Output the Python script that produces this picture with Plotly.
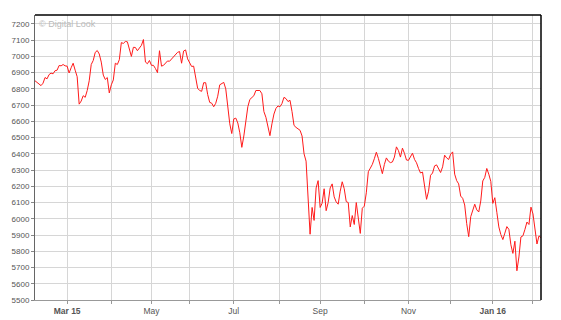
import pandas as pd
import plotly.graph_objects as go

start_date = "2015-02-06"
end_date = "2016-02-05"
uk_holidays = ["2015-04-03", "2015-04-06", "2015-05-04", "2015-05-25",
               "2015-08-31", "2015-12-25", "2015-12-28", "2016-01-01"]

values = [
    6850, 6838, 6828, 6820, 6835, 6870, 6862, 6888, 6897, 6893,
    6912, 6915, 6944, 6942, 6950, 6942, 6940, 6898, 6930, 6958,
    6915, 6875, 6706, 6725, 6758, 6748, 6790, 6850, 6950, 6975,
    7025, 7036, 7015, 6965, 6885, 6858, 6870, 6775, 6825, 6855,
    6958, 6950, 6980, 7085, 7080, 7092, 7090, 7050, 7000, 7056,
    7055, 7035, 7052, 7068, 7104, 6965, 6955, 6975, 6945, 6945,
    6925, 6900, 7035, 6940, 6945, 6960, 6972, 6970, 6985, 6998,
    7012, 7025, 7030, 6958, 7033, 7040, 6985, 6958, 6938, 6940,
    6870, 6804, 6790, 6785, 6838, 6838, 6765, 6717, 6712, 6690,
    6711, 6755, 6825, 6835, 6840, 6800, 6700, 6585, 6525, 6615,
    6620, 6590, 6530, 6440, 6510, 6600, 6690, 6735, 6746, 6758,
    6790, 6788, 6790, 6770, 6660, 6625, 6560, 6512, 6585, 6645,
    6680, 6695, 6690, 6710, 6748, 6740, 6722, 6730, 6660, 6575,
    6563, 6555, 6545, 6510, 6400, 6355, 6130, 5905, 6070, 5990,
    6190, 6235, 6070, 6096, 6185, 6050, 6100, 6190, 6215, 6135,
    6104, 6090, 6170, 6228, 6185, 6106, 6100, 5950, 6020, 5965,
    6100, 5990, 5910, 6065, 6078, 6160, 6290, 6312, 6335, 6370,
    6410, 6372, 6328, 6278, 6335, 6375, 6355, 6346, 6350, 6380,
    6443, 6420, 6380, 6435, 6403, 6362, 6360, 6380, 6404, 6366,
    6345, 6310, 6282, 6288, 6188, 6120, 6170, 6268, 6282, 6326,
    6332, 6310, 6285, 6320, 6392, 6375, 6365, 6398, 6412, 6275,
    6235, 6215, 6140, 6126, 6085, 5970, 5890, 6013, 6055, 6090,
    6055, 6042, 6110, 6233, 6255, 6310, 6275, 6230, 6095, 6130,
    6040, 5950, 5903, 5872, 5912, 5952, 5935, 5840, 5787, 5862,
    5680, 5765, 5888, 5895, 5935, 5980, 5965, 6072, 6030, 5935,
    5845, 5895, 5884,
]

month_labels = {
    "2015-03": "<b>Mar 15</b>", "2015-05": "May", "2015-07": "Jul",
    "2015-09": "Sep", "2015-11": "Nov", "2016-01": "<b>Jan 16</b>",
}

dates = pd.bdate_range(start_date, end_date, freq="C", holidays=uk_holidays)
n = min(len(dates), len(values))
dates = dates[:n]
values = values[:n]
xs = list(range(n))

month_idx = [i for i in range(1, n) if dates[i].month != dates[i - 1].month]
tick_text = [month_labels.get(dates[i].strftime("%Y-%m"), "") for i in month_idx]

fig = go.Figure()
fig.add_trace(go.Scatter(
    x=xs, y=values, mode="lines",
    line=dict(color="#ff1a1a", width=1),
    customdata=[d.strftime("%d %b %Y") for d in dates],
    hovertemplate="%{customdata}: %{y}<extra></extra>",
    showlegend=False,
))

font_family = "Liberation Sans, Arial, sans-serif"
fig.update_layout(
    width=561, height=320,
    margin=dict(l=35, r=20, t=15, b=20),
    paper_bgcolor="white", plot_bgcolor="white",
    xaxis=dict(
        range=[0, n - 1], tickmode="array", tickvals=month_idx, ticktext=tick_text,
        showgrid=True, gridcolor="#d6d6d6", gridwidth=1,
        showline=True, linecolor="#999999", linewidth=1,
        ticks="outside", ticklen=3, tickcolor="#999999",
        tickfont=dict(family=font_family, size=8.5, color="#555555"),
        zeroline=False, fixedrange=True, automargin=False,
    ),
    yaxis=dict(
        range=[5500, 7255], tick0=5500, dtick=100,
        showgrid=True, gridcolor="#d6d6d6", gridwidth=1,
        showline=True, linecolor="#666666", linewidth=1,
        ticks="outside", ticklen=3, tickcolor="#888888",
        tickfont=dict(family=font_family, size=8, color="#555555"),
        zeroline=False, fixedrange=True, automargin=False,
    ),
    shapes=[
        dict(type="line", xref="paper", yref="paper", x0=0, x1=1, y0=1, y1=1,
             line=dict(color="black", width=1.5)),
        dict(type="line", xref="paper", yref="paper", x0=1, x1=1, y0=0, y1=1,
             line=dict(color="black", width=1.5)),
    ],
    annotations=[
        dict(text="© Digital Look", xref="paper", yref="paper", x=0, y=1,
             xanchor="left", yanchor="top", xshift=2, yshift=-2, showarrow=False,
             font=dict(family=font_family, size=9, color="#bbbbbb")),
    ],
)

fig.write_html("out.html")
